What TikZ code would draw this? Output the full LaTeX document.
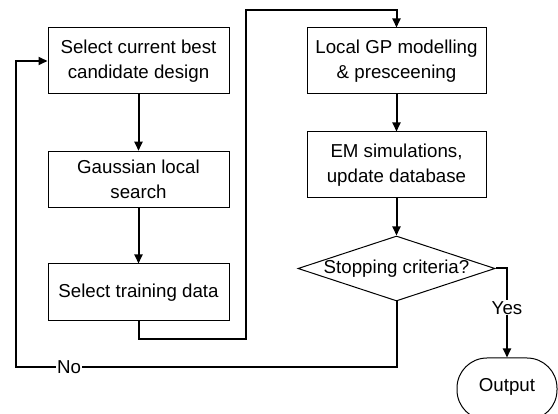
\documentclass[tikz,border=0pt]{standalone}
\usepackage{fontspec}
\setmainfont{Liberation Sans}
\usetikzlibrary{arrows.meta,shapes.geometric}
\begin{document}
\begin{tikzpicture}[x=1pt,y=-1pt,
  txt/.style={font=\fontsize{18.7}{25}\selectfont},
  box/.style={draw,line width=1pt,minimum width=181pt,align=center,txt,inner sep=0pt},
  conn/.style={line width=2pt},
  arr/.style={conn,-{Triangle[length=9pt,width=8pt]}},
  lab/.style={fill=white,inner sep=1pt,txt}]
\useasboundingbox (0,0) rectangle (558,414);
\clip (0,0) rectangle (558,414);
\node[box,minimum height=66pt] (b1) at (138.5,61) {Select current best\\candidate design};
\node[box,minimum height=56.5pt] (b2) at (138.5,179.5) {Gaussian local\\search};
\node[box,minimum height=57pt] (b3) at (138.5,292.5) {Select training data};
\node[box,minimum height=66pt,minimum width=179pt] (b4) at (396.5,61) {Local GP modelling\\\& presceening};
\node[box,minimum height=66pt,minimum width=179pt] (b5) at (396.5,165) {EM simulations,\\update database};
\node[diamond,draw,line width=1pt,minimum width=197pt,minimum height=65pt,inner sep=0pt] (d) at (396.5,268.5) {};
\node[txt] at (d) {Stopping criteria?};
\node[draw,line width=1pt,rounded corners=30pt,minimum width=100pt,minimum height=62pt,inner sep=0pt,txt] (out) at (507,389) {};
\node[txt] (outt) at (507,387) {Output};
\coordinate (c1) at (246,10);
\coordinate (c2) at (15.7,367);
\draw[arr] (b1.south) -- (b2.north);
\draw[arr] (b2.south) -- (b3.north);
\draw[arr] (b3.south) -- ++(0,18) -| (c1) -| (b4.north);
\draw[arr] (b4.south) -- (b5.north);
\draw[arr] (b5.south) -- (d.north);
\draw[arr] (d.east) -| node[lab,pos=0.72] {Yes} (out.north);
\draw[arr] (d.south) |- node[lab,pos=0.93] {No} (c2) |- (b1.west);
\end{tikzpicture}
\end{document}
